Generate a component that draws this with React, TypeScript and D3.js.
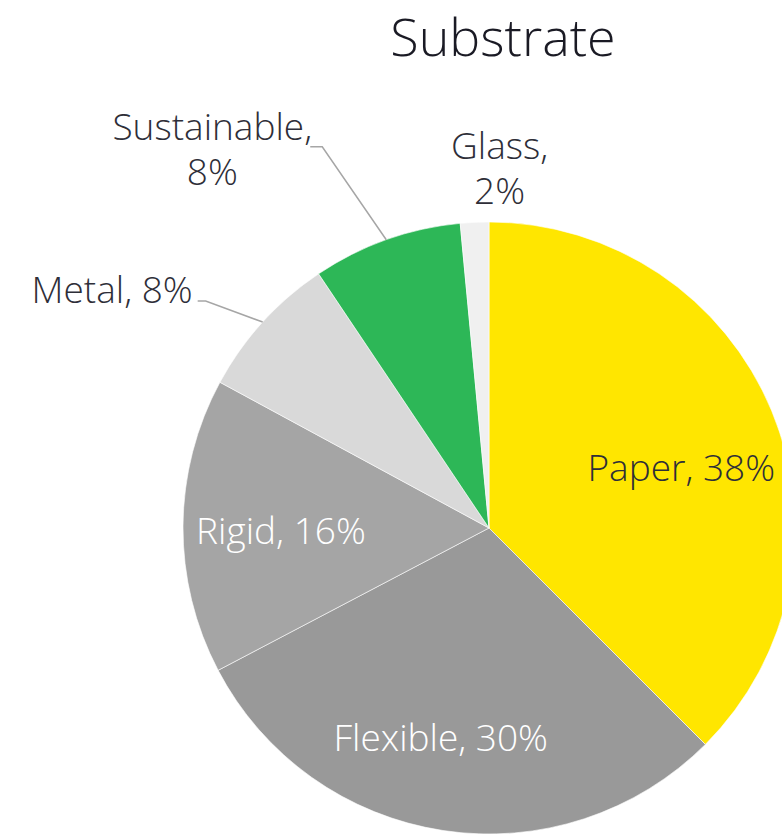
import React from "react";
import * as d3 from "d3";

const categories = ["Paper", "Flexible", "Rigid", "Metal", "Sustainable", "Glass"];
const values = [37.5, 29.8, 15.6, 7.7, 7.9, 1.5];
const shownPercents = ["38%", "30%", "16%", "8%", "8%", "2%"];
const colors = ["#FFE600", "#999999", "#A5A5A5", "#D9D9D9", "#2DB757", "#F0F0F0"];
const title = "Substrate";

const W = 782;
const H = 834;
const cx = 489;
const cy = 528;
const R = 306;
const FONT = "'Open Sans', Lato, sans-serif";
const FS = 37;
const insideNudgeX = [0, -17, 0];
const insideNudgeY = [21, 5, 5];

export default function App() {
  const pie = d3.pie<number>().sort(null).value((d) => d).startAngle(0).endAngle(2 * Math.PI);
  const arcs = pie(values);
  const arcGen = d3.arc<d3.PieArcDatum<number>>().innerRadius(0).outerRadius(R);

  const mid = (a: d3.PieArcDatum<number>) => (a.startAngle + a.endAngle) / 2;
  const pt = (ang: number, r: number): [number, number] => [Math.sin(ang) * r, -Math.cos(ang) * r];

  const labels: React.ReactNode[] = [];
  arcs.forEach((a, i) => {
    const m = mid(a);
    const name = categories[i];
    const pct = shownPercents[i];
    if (i < 3) {
      const [x, y] = pt(m, R * 0.68);
      const fill = i === 0 ? "#2E2E38" : "#FFFFFF";
      labels.push(
        <text key={"l" + i} x={x + insideNudgeX[i]} y={y + 12 + insideNudgeY[i]} textAnchor="middle" fontSize={FS} fontWeight={300} fill={fill} fontFamily={FONT}>
          {name}, {pct}
        </text>
      );
    } else {
      const [ox, oy] = pt(m, R);
      if (i === 3) {
        const ex = ox - 57;
        const ey = oy - 21;
        labels.push(
          <g key={"l" + i}>
            <polyline points={`${ox},${oy} ${ex},${ey} ${ex - 8},${ey}`} fill="none" stroke="#A6A6A6" strokeWidth={1.5} />
            <text x={ex - 13} y={ey + 2} textAnchor="end" fontSize={FS} fontWeight={300} fill="#2E2E38" fontFamily={FONT}>
              {name}, {pct}
            </text>
          </g>
        );
      } else if (i === 4) {
        const ex = ox - 64;
        const ey = oy - 93;
        labels.push(
          <g key={"l" + i}>
            <polyline points={`${ox},${oy} ${ex},${ey} ${ex - 12},${ey}`} fill="none" stroke="#A6A6A6" strokeWidth={1.5} />
            <text textAnchor="middle" fontSize={FS} fontWeight={300} fill="#2E2E38" fontFamily={FONT}>
              <tspan x={ox - 174} y={oy - 100}>{name},</tspan>
              <tspan x={ox - 174} y={oy - 55}>{pct}</tspan>
            </text>
          </g>
        );
      } else {
        labels.push(
          <text key={"l" + i} textAnchor="middle" fontSize={FS} fontWeight={300} fill="#2E2E38" fontFamily={FONT}>
            <tspan x={ox + 25} y={oy - 63}>{name},</tspan>
            <tspan x={ox + 25} y={oy - 18}>{pct}</tspan>
          </text>
        );
      }
    }
  });

  return (
    <svg width={W} height={H} style={{ position: "absolute", left: 0, top: 0, background: "#fff" }}>
      <text x={503} y={56} textAnchor="middle" fontSize={52} fontWeight={300} fill="#1A1A24" fontFamily={FONT}>
        {title}
      </text>
      <g transform={`translate(${cx},${cy})`}>
        {arcs.map((a, i) => (
          <path key={i} d={arcGen(a) || ""} fill={colors[i]} stroke="#ffffff" strokeWidth={0.6} />
        ))}
        {labels}
      </g>
    </svg>
  );
}
